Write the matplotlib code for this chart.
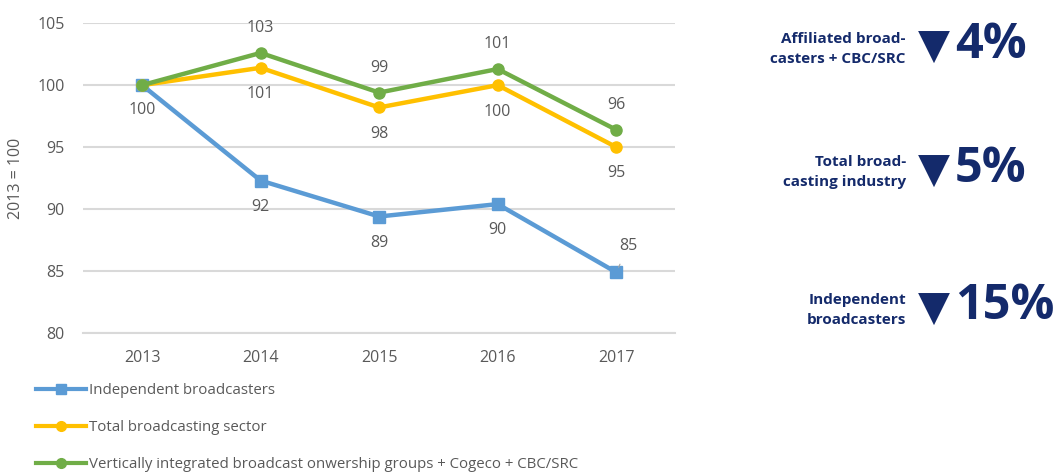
import matplotlib
matplotlib.use("Agg")
import matplotlib.pyplot as plt
from matplotlib.lines import Line2D

plt.rcParams['font.family'] = ['Open Sans', 'DejaVu Sans']

years = ["2013", "2014", "2015", "2016", "2017"]
independent = [100.0, 92.3, 89.4, 90.4, 84.9]
total_sector = [100.0, 101.4, 98.2, 100.0, 95.0]
vertically_integrated = [100.0, 102.6, 99.4, 101.3, 96.4]

series_names = [
    "Independent broadcasters",
    "Total broadcasting sector",
    "Vertically integrated broadcast onwership groups + Cogeco + CBC/SRC",
]

summary_labels = ["Affiliated broad-\ncasters + CBC/SRC",
                  "Total broad-\ncasting industry",
                  "Independent\nbroadcasters"]
summary_changes = ["4%", "5%", "15%"]

BLUE = "#5B9BD5"
GOLD = "#FFC000"
GREEN = "#70AD47"
GRID = "#D9D9D9"
TEXT = "#595959"
NAVY = "#142A6B"

fig = plt.figure(figsize=(10.62, 4.73), dpi=100)
ax = fig.add_axes([0.078, 0.296, 0.558, 0.655])

x = list(range(len(years)))
ax.plot(x, independent, color=BLUE, lw=3.2, marker="s", ms=8.5, zorder=3,
        label=series_names[0])
ax.plot(x, total_sector, color=GOLD, lw=3.2, marker="o", ms=8, zorder=3,
        label=series_names[1])
ax.plot(x, vertically_integrated, color=GREEN, lw=3.2, marker="o", ms=8, zorder=4,
        label=series_names[2])

ax.set_xlim(-0.5, len(years) - 0.5)
ax.set_ylim(80, 105)
ax.set_yticks([80, 85, 90, 95, 100, 105])
ax.set_xticks(x)
ax.set_xticklabels(years)
ax.yaxis.grid(True, color=GRID, lw=1.5)
ax.set_axisbelow(True)
for s in ["top", "right", "left"]:
    ax.spines[s].set_visible(False)
ax.spines["bottom"].set_color(GRID)
ax.spines["bottom"].set_linewidth(1.5)
ax.tick_params(length=0, labelsize=11.5, labelcolor=TEXT, pad=12)
ax.tick_params(axis="y", pad=13)
ax.set_ylabel("2013 = 100", fontsize=11.5, color=TEXT, labelpad=10)

lab_kw = dict(textcoords="offset points", ha="center", va="center",
              fontsize=11.5, color=TEXT)

# value labels: green above, gold and blue below
for i in range(1, len(years)):
    ax.annotate(f"{vertically_integrated[i]:.0f}", (i, vertically_integrated[i]),
                xytext=(0, 18), **lab_kw)
    ax.annotate(f"{total_sector[i]:.0f}", (i, total_sector[i]),
                xytext=(0, -19), **lab_kw)
for i in range(1, len(years) - 1):
    ax.annotate(f"{independent[i]:.0f}", (i, independent[i]),
                xytext=(0, -19), **lab_kw)
ax.annotate(f"{independent[0]:.0f}", (0, independent[0]), xytext=(0, -18), **lab_kw)
ax.annotate(f"{independent[-1]:.0f}", (len(years) - 1, independent[-1]),
            xytext=(9, 19),
            arrowprops=dict(arrowstyle="-", color="#A6A6A6", lw=0.8,
                            shrinkA=6, shrinkB=4),
            **lab_kw)

handles = [
    Line2D([], [], color=BLUE, lw=3, marker="s", ms=7),
    Line2D([], [], color=GOLD, lw=3, marker="o", ms=7),
    Line2D([], [], color=GREEN, lw=3, marker="o", ms=7),
]
leg = fig.legend(handles, series_names, loc="upper left",
                 bbox_to_anchor=(0.034, 0.19), frameon=False,
                 fontsize=10.85, handlelength=3.3, handletextpad=0.2,
                 labelspacing=1.45, borderaxespad=0, borderpad=0)
for t in leg.get_texts():
    t.set_color(TEXT)

# summary of change, 2013 to 2017
rows_y = [0.897, 0.636, 0.345]
for lbl, chg, yy in zip(summary_labels, summary_changes, rows_y):
    fig.text(0.853, yy, lbl, ha="right", va="center", fontsize=11,
             fontweight="bold", color=NAVY, linespacing=1.55)
    fig.text(0.879, yy + 0.003, "\u25BC", ha="center", va="center", fontsize=30,
             color=NAVY, family="DejaVu Sans")
    fig.text(0.899, yy + 0.006, chg, ha="left", va="center", fontsize=35,
             fontweight="bold", color=NAVY)

fig.savefig("out.png", dpi=100)
